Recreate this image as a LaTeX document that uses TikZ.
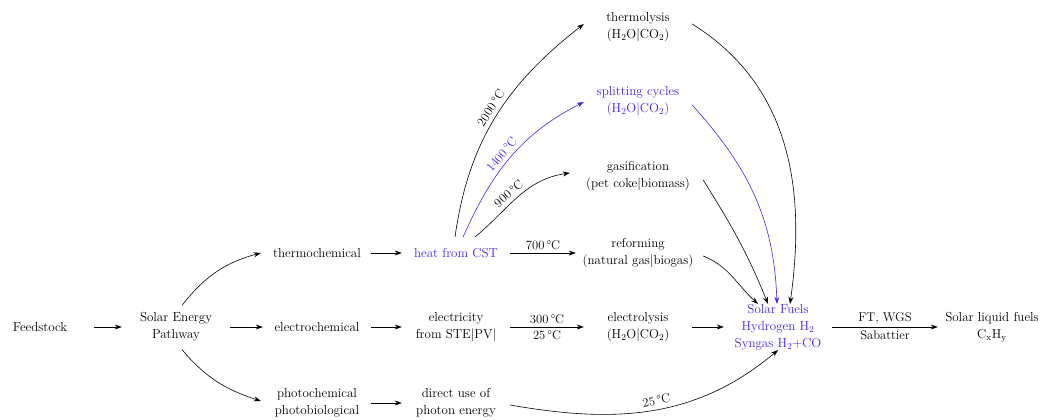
\documentclass[tikz,border=0pt]{standalone}
\usetikzlibrary{arrows.meta}
\definecolor{bl}{RGB}{60,40,235}
\begin{document}
\begin{tikzpicture}[x=1pt,y=1pt,
  box/.style={align=center,minimum width=108pt,inner sep=3pt,font=\fontsize{13}{17}\selectfont},
  wbox/.style={box,minimum width=124pt},
  arr/.style={-{Stealth[length=7pt,width=5pt]},line width=0.6pt},
  lbl/.style={font=\fontsize{12.6}{15}\selectfont,inner sep=3pt}]
\useasboundingbox (0,0) rectangle (1042,420);
\node[box] (feed) at (40,93) {Feedstock};
\node[box] (sep) at (176,93) {Solar Energy\\Pathway};
\node[box] (thermo) at (317,167) {thermochemical};
\node[box] (electro) at (317,93) {electrochemical};
\node[box] (photo) at (317,17) {photochemical\\photobiological};
\node[box,text=bl] (heat) at (456,167) {heat from CST};
\node[box] (elec) at (456,93) {electricity\\from STE\textbar PV\textbar};
\node[box] (direct) at (456,17) {direct use of\\photon energy};
\node[box] (tly) at (638,393) {thermolysis\\(H\textsubscript{2}O\textbar CO\textsubscript{2})};
\node[box,text=bl] (split) at (638,319) {splitting cycles\\(H\textsubscript{2}O\textbar CO\textsubscript{2})};
\node[wbox] (gas) at (638,244) {gasification\\(pet coke\textbar biomass)};
\node[wbox] (ref) at (638,167) {reforming\\(natural gas\textbar biogas)};
\node[box] (ely) at (638,93) {electrolysis\\(H\textsubscript{2}O\textbar CO\textsubscript{2})};
\node[box,text=bl] (sf) at (778,93) {Solar Fuels\\Hydrogen H\textsubscript{2}\\Syngas H\textsubscript{2}+CO};
\node[box] (liq) at (992,93) {Solar liquid fuels\\C\textsubscript{x}H\textsubscript{y}};
% straight arrows
\draw[arr] (feed) -- (sep);
\draw[arr] (sep) -- (electro);
\draw[arr] (thermo) -- (heat);
\draw[arr] (electro) -- (elec);
\draw[arr] (photo) -- (direct);
\draw[arr] (heat) -- node[lbl,above] {700\,\textdegree C} (ref);
\draw[arr] (elec.east) -- node[lbl,above] {300\,\textdegree C} node[lbl,below] {25\,\textdegree C} (ely.west);
\draw[arr] (ely) -- (sf);
\draw[arr] (sf) -- node[lbl,above] {FT, WGS} node[lbl,below] {Sabattier} (liq);
% curved from pathway
\draw[arr] ([xshift=6pt,yshift=4pt]sep.north) to[out=52,in=195] ([xshift=-2pt]thermo.west);
\draw[arr] ([xshift=6pt,yshift=-5pt]sep.south) to[out=-50,in=162] ([xshift=-2pt,yshift=2pt]photo.west);
% curves from heat
\draw[arr] ([xshift=-1pt,yshift=8pt]heat.north) to[out=82,in=218] node[lbl,above=1pt,sloped,pos=0.52] {2000\,\textdegree C} ([yshift=3pt]tly.west);
\draw[arr,bl] ([xshift=7pt,yshift=8pt]heat.north) to[out=66,in=207] node[lbl,above=1pt,sloped,pos=0.48,text=bl] {1400\,\textdegree C} ([yshift=-1pt]split.west);
\draw[arr] ([xshift=19pt,yshift=8pt]heat.north) to[out=40,in=188] node[lbl,above=1pt,sloped,pos=0.45] {900\,\textdegree C} ([xshift=-6pt,yshift=3pt]gas.west);
% curves into solar fuels
\draw[arr] ([yshift=3pt]tly.east) to[out=-32,in=82] ([xshift=12pt,yshift=-3pt]sf.north);
\draw[arr,bl] ([yshift=-4pt]split.east) to[out=-48,in=92] ([xshift=-1pt,yshift=-3pt]sf.north);
\draw[arr] ([xshift=3pt,yshift=-4pt]gas.east) to[out=-58,in=112] ([xshift=-10pt,yshift=-3pt]sf.north);
\draw[arr] ([xshift=3pt,yshift=-3pt]ref.east) to[out=-22,in=138] ([xshift=-20pt,yshift=-3pt]sf.north);
\draw[arr] ([yshift=-2pt]direct.east) to[out=-10,in=-140] node[lbl,above=1pt,sloped,pos=0.52] {25\,\textdegree C} ([yshift=3pt]sf.south);
\end{tikzpicture}
\end{document}
